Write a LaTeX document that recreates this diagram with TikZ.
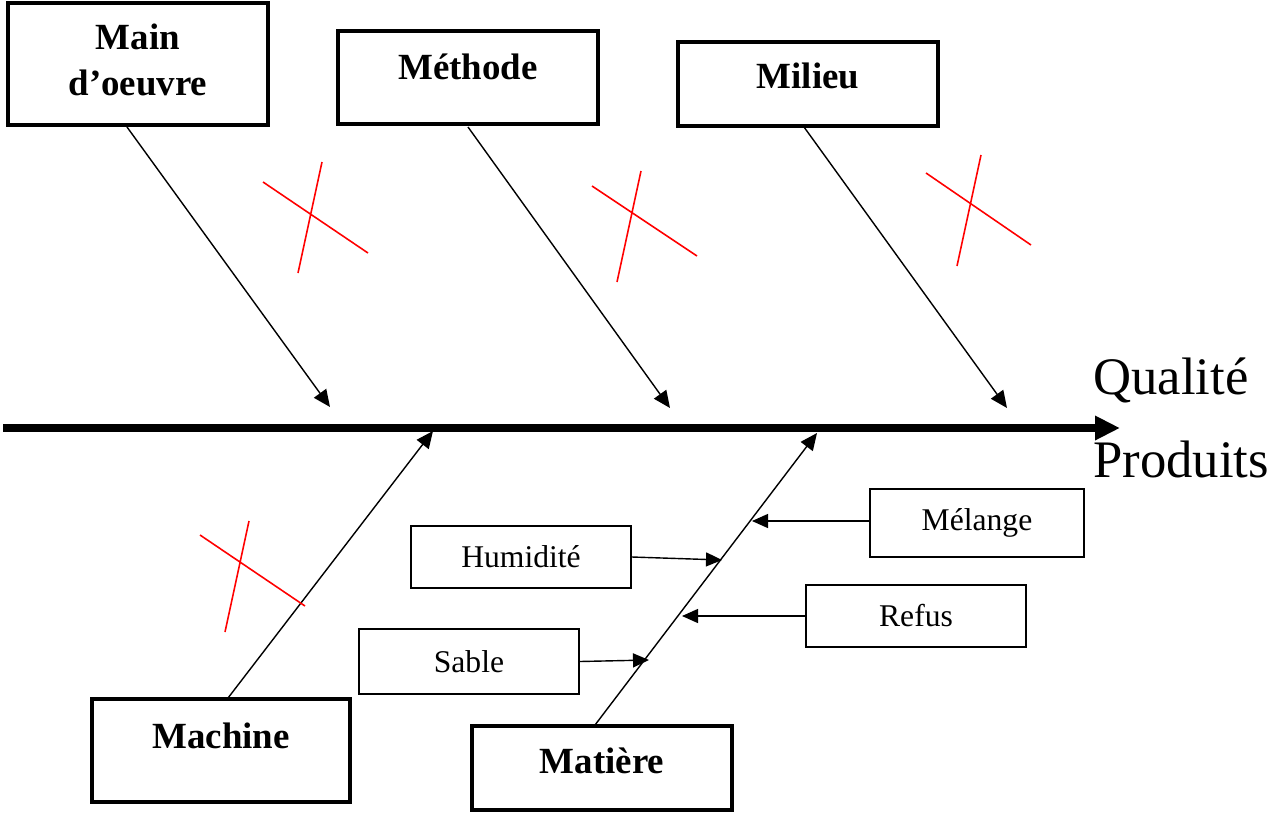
\documentclass[tikz,border=0pt]{standalone}
\usepackage{fontspec}
\setmainfont{Liberation Serif}
\usetikzlibrary{arrows.meta}
\begin{document}
\begin{tikzpicture}[x=0.02cm,y=-0.02cm,
  cause/.style={draw, line width=2.2pt, inner sep=0pt},
  causetext/.style={font=\fontsize{21}{26.5}\selectfont\bfseries, align=center},
  subcause/.style={draw, line width=1.1pt, inner sep=0pt,
    font=\fontsize{18}{21}\selectfont},
  bone/.style={line width=0.8pt, -{Triangle[length=0.34cm,width=0.3cm]}},
  twig/.style={line width=0.8pt, -{Triangle[length=0.32cm,width=0.28cm]}},
  cross/.style={red, line width=0.9pt},
  effect/.style={font=\fontsize{30}{36}\selectfont, inner sep=0pt}
]
\useasboundingbox (0,0) rectangle (1271,812);

% main causes (bold boxes)
\node[cause, minimum width=5.2cm, minimum height=2.44cm,
  label={[causetext, yshift=0.08cm]center:Main\\d’oeuvre}] (main) at (138,64) {};
\node[cause, minimum width=5.2cm, minimum height=1.86cm,
  label={[causetext, yshift=0.22cm]center:Méthode}] (meth) at (468,77.5) {};
\node[cause, minimum width=5.2cm, minimum height=1.68cm,
  label={[causetext, yshift=0.16cm]center:Milieu}] (mil) at (808,84) {};
\node[cause, minimum width=5.16cm, minimum height=2.06cm,
  label={[causetext, yshift=0.3cm]center:Machine}] (mach) at (221,750.5) {};
\node[cause, minimum width=5.2cm, minimum height=1.68cm,
  label={[causetext, yshift=0.14cm]center:Matière}] (mat) at (602,768) {};

% secondary causes
\node[subcause, minimum width=4.4cm, minimum height=1.24cm] (hum) at (521,557) {Humidité};
\node[subcause, minimum width=4.4cm, minimum height=1.3cm] (sab) at (469,661.5) {Sable};
\node[subcause, minimum width=4.28cm, minimum height=1.36cm] (mel) at (977,523) {Mélange};
\node[subcause, minimum width=4.4cm, minimum height=1.24cm] (ref) at (916,616) {Refus};

% effect
\node[effect, anchor=base west] (qual) at (1093,394) {Qualité};
\node[effect, anchor=base west] (prod) at (1093,477) {Produits};

% spine
\coordinate (tail) at (3,428);
\coordinate (head) at (1120,428);
\draw[line width=4pt, -{Triangle[length=0.5cm,width=0.46cm]}] (tail) -- (head);

% bone end points
\coordinate (mainS) at (127,127);
\coordinate (mainT) at (330,407);
\coordinate (methS) at (468,127);
\coordinate (methT) at (670,408);
\coordinate (milS) at (804,127);
\coordinate (milT) at (1007,408);
\coordinate (machS) at (228,698);
\coordinate (machT) at (433,431);
\coordinate (matS) at (595,725);
\coordinate (matT) at (817,433);

\draw[bone] (mainS) -- (mainT);
\draw[bone] (methS) -- (methT);
\draw[bone] (milS) -- (milT);
\draw[bone] (machS) -- (machT);
\draw[bone] (matS) -- (matT);

% twigs onto the material bone
\coordinate (melT) at (752,521);
\coordinate (humT) at (722,560);
\coordinate (refT) at (682,616);
\coordinate (sabT) at (649,660);
\draw[twig] (mel.west |- melT) -- (melT);
\draw[twig] (hum.east) -- (humT);
\draw[twig] (ref.west) -- (refT);
\draw[twig] (sab.east) -- (sabT);

% red crosses
\coordinate (c1a) at (263,182); \coordinate (c1b) at (368,253);
\coordinate (c1c) at (322,162); \coordinate (c1d) at (298,273);
\coordinate (c2a) at (592,186); \coordinate (c2b) at (697,256);
\coordinate (c2c) at (641,171); \coordinate (c2d) at (617,282);
\coordinate (c3a) at (926,173); \coordinate (c3b) at (1031,245);
\coordinate (c3c) at (981,155); \coordinate (c3d) at (957,266);
\coordinate (c4a) at (200,535); \coordinate (c4b) at (305,606);
\coordinate (c4c) at (249,521); \coordinate (c4d) at (225,632);
\draw[cross] (c1a) -- (c1b) (c1c) -- (c1d);
\draw[cross] (c2a) -- (c2b) (c2c) -- (c2d);
\draw[cross] (c3a) -- (c3b) (c3c) -- (c3d);
\draw[cross] (c4a) -- (c4b) (c4c) -- (c4d);
\end{tikzpicture}
\end{document}
